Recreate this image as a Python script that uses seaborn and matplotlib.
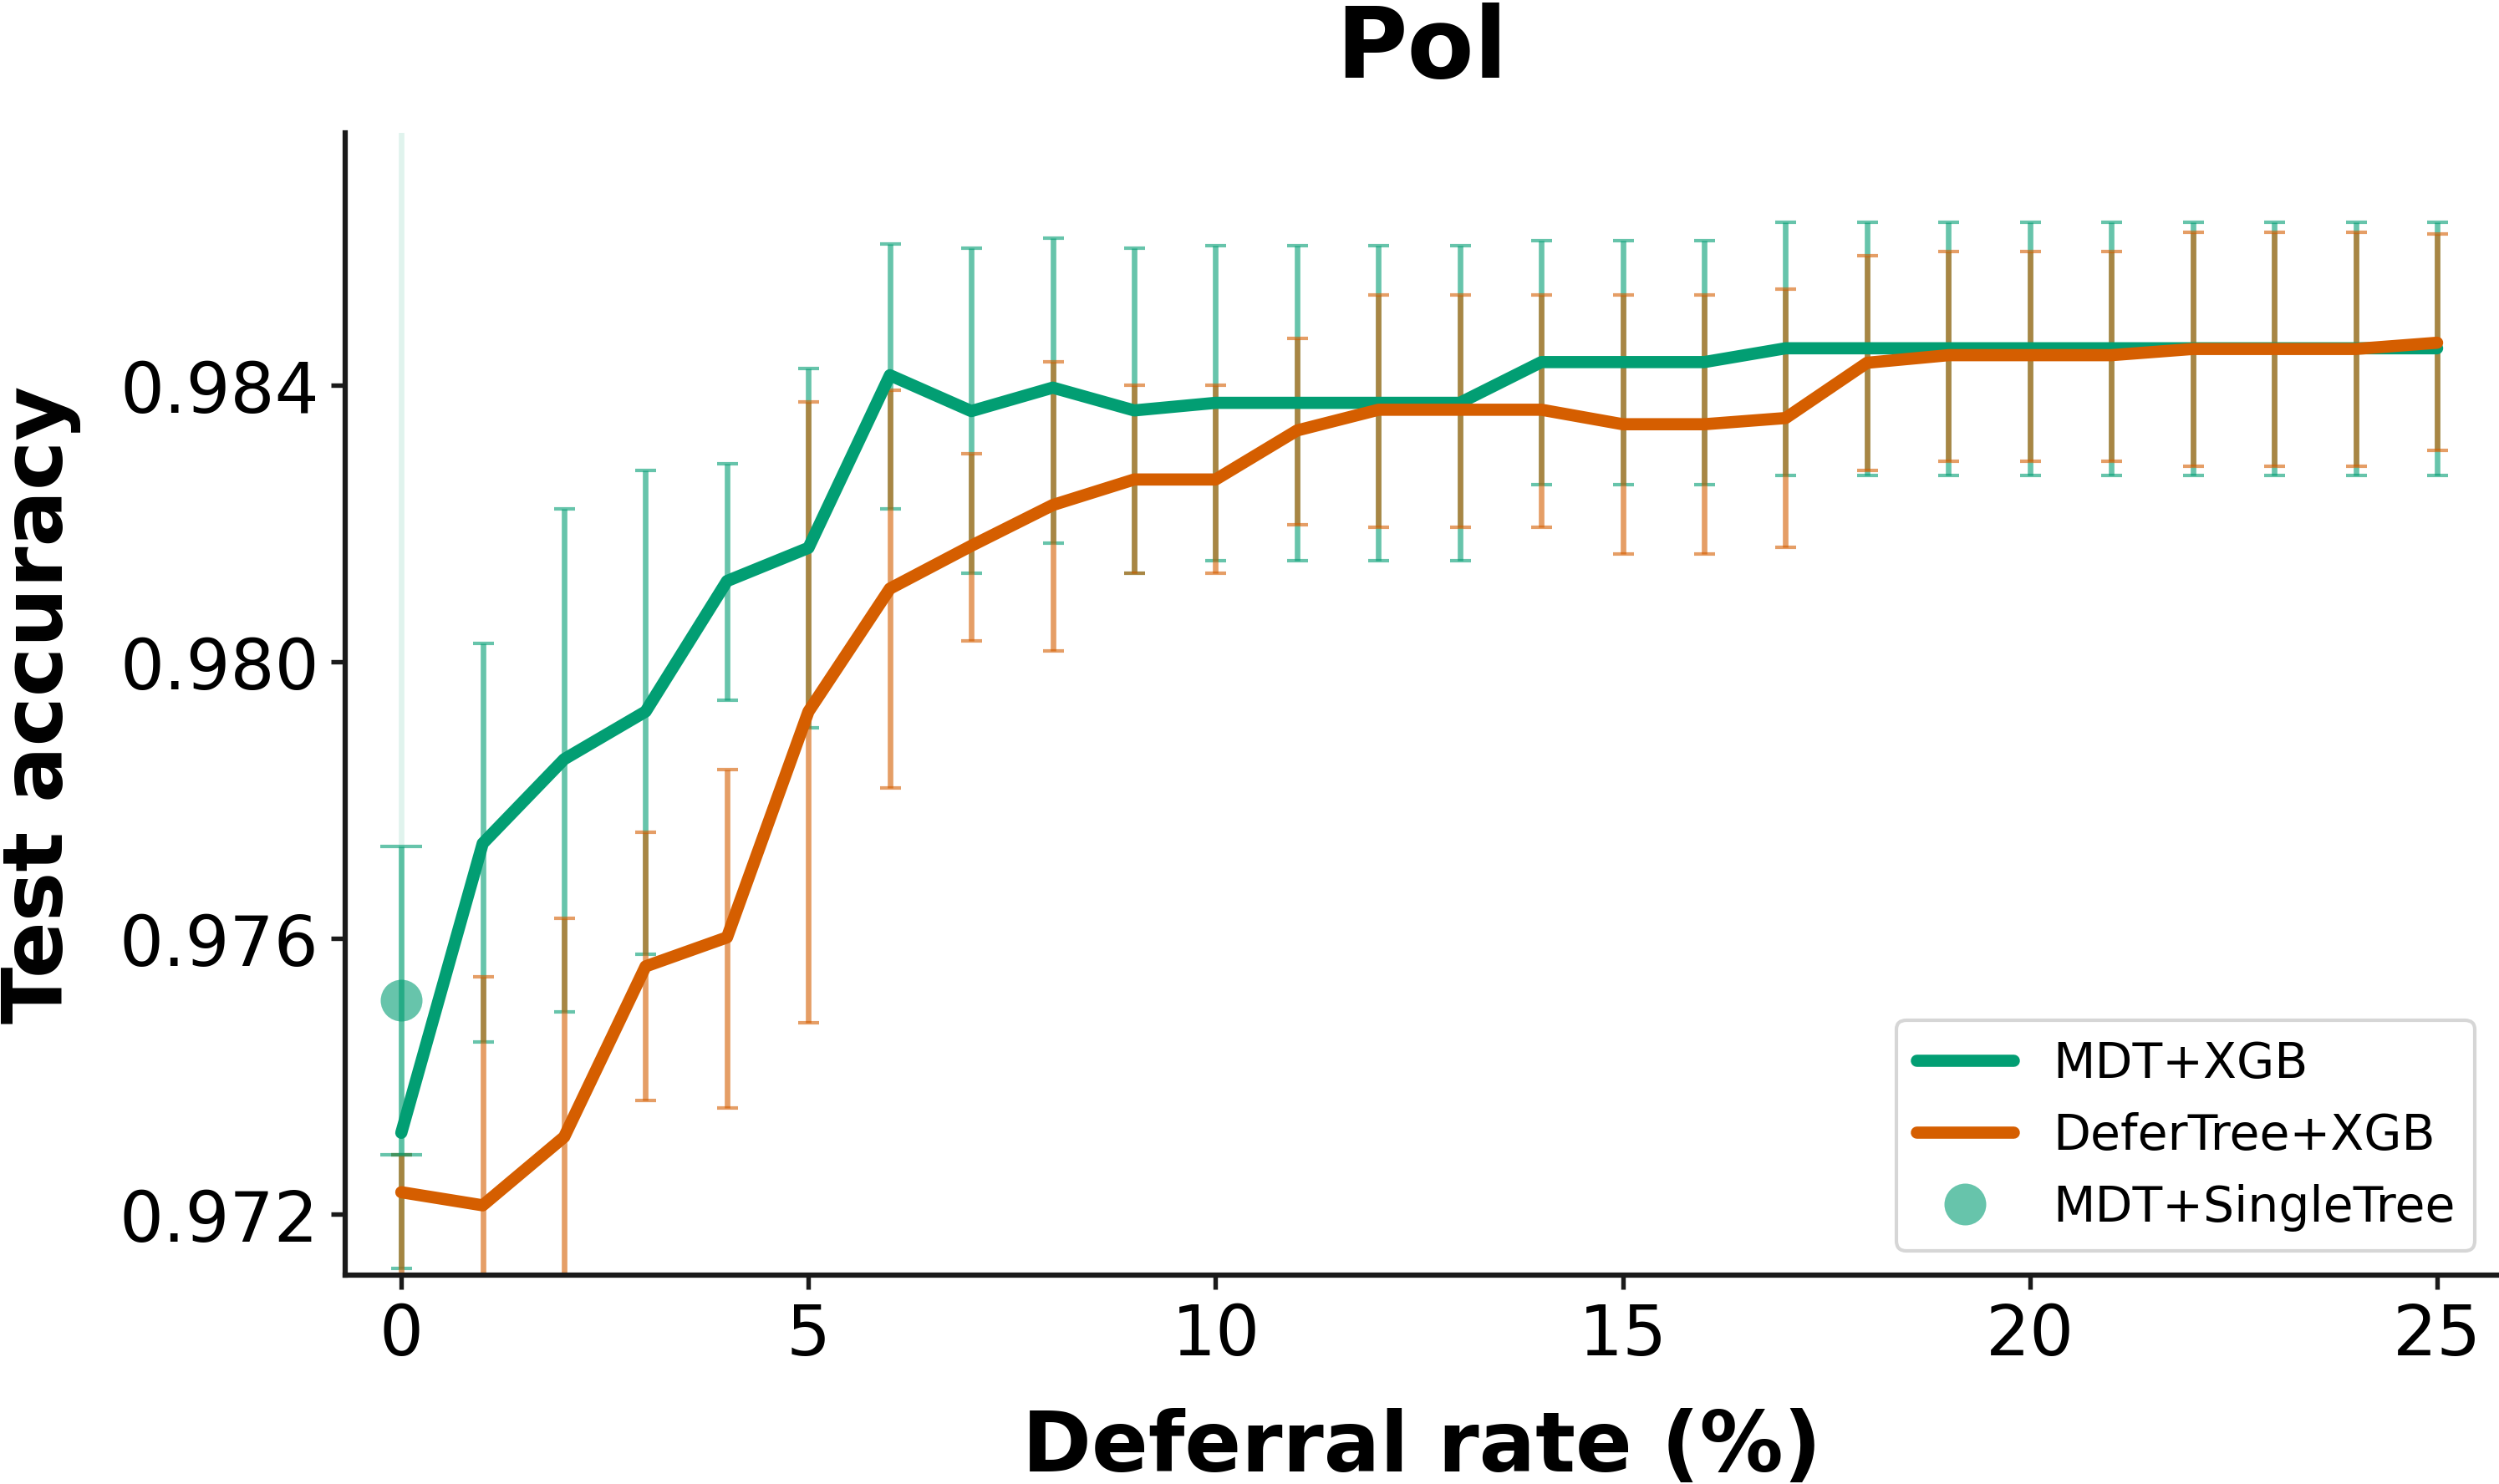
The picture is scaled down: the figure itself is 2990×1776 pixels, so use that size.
import numpy as np
import pandas as pd
import matplotlib
matplotlib.use("Agg")
import matplotlib.pyplot as plt
from matplotlib.lines import Line2D
from matplotlib.ticker import FormatStrFormatter
import seaborn as sns

# ---------------------------------------------------
# Data
# ---------------------------------------------------
deferral_rate = list(range(26))

mdt_xgb_mean = [0.97318, 0.97737, 0.97859, 0.97928, 0.98117, 0.98165, 0.98415, 0.98363,
                0.98397, 0.98364, 0.98375, 0.98375, 0.98375, 0.98375, 0.98434, 0.98434,
                0.98434, 0.98454, 0.98454, 0.98454, 0.98454, 0.98454, 0.98454, 0.98454,
                0.98454, 0.98454]
mdt_xgb_low = [0.97122, 0.97450, 0.97493, 0.97577, 0.97944, 0.97905, 0.98221, 0.98128,
               0.98172, 0.98128, 0.98146, 0.98146, 0.98146, 0.98146, 0.98256, 0.98256,
               0.98256, 0.98270, 0.98270, 0.98270, 0.98270, 0.98270, 0.98270, 0.98270,
               0.98270, 0.98270]
mdt_xgb_high = [0.97286, 0.98027, 0.98221, 0.98277, 0.98287, 0.98425, 0.98605, 0.98599,
                0.98614, 0.98599, 0.98602, 0.98602, 0.98602, 0.98602, 0.98610, 0.98610,
                0.98610, 0.98636, 0.98636, 0.98636, 0.98636, 0.98636, 0.98636, 0.98636,
                0.98636, 0.98636]

defer_mean = [0.97232, 0.97213, 0.97312, 0.97559, 0.97601, 0.97928, 0.98106, 0.98168,
              0.98227, 0.98264, 0.98264, 0.98335, 0.98365, 0.98365, 0.98365, 0.98344,
              0.98344, 0.98353, 0.98433, 0.98444, 0.98444, 0.98444, 0.98453, 0.98453,
              0.98453, 0.98462]
defer_low = [0.96950, 0.96882, 0.96996, 0.97365, 0.97354, 0.97477, 0.97817, 0.98030,
             0.98016, 0.98128, 0.98128, 0.98199, 0.98195, 0.98195, 0.98195, 0.98156,
             0.98156, 0.98166, 0.98277, 0.98291, 0.98291, 0.98291, 0.98283, 0.98283,
             0.98283, 0.98306]
defer_high = [0.97286, 0.97544, 0.97628, 0.97753, 0.97844, 0.98376, 0.98393, 0.98301,
              0.98434, 0.98400, 0.98400, 0.98468, 0.98531, 0.98531, 0.98531, 0.98531,
              0.98531, 0.98540, 0.98588, 0.98594, 0.98594, 0.98594, 0.98622, 0.98622,
              0.98622, 0.98619]

single_tree_x = [0]
single_tree_mean = [0.97510]
single_tree_low = [0.97286]
single_tree_high = [0.97733]

methods = ["MDT+XGB", "DeferTree+XGB", "MDT+SingleTree"]
green = "#029e73"
orange = "#d55e00"


def draw_band(ax, x, low, high, color, capsize, zorder):
    # error bars given by their ends, drawn around the middle of each interval
    lo = np.array(low)
    hi = np.array(high)
    ax.errorbar(x, (lo + hi) / 2, yerr=(hi - lo) / 2, fmt="none", ecolor=color,
                alpha=0.6, elinewidth=1.6, capsize=capsize, capthick=1.0, zorder=zorder)


# ---------------------------------------------------
# Plot
# ---------------------------------------------------
sns.set_theme(style="ticks", rc={
    "axes.edgecolor": "#1a1a1a",
    "axes.linewidth": 1.5,
    "xtick.color": "#1a1a1a",
    "ytick.color": "#1a1a1a",
    "xtick.labelcolor": "black",
    "ytick.labelcolor": "black",
    "text.color": "black",
    "axes.labelcolor": "black",
    "xtick.major.size": 4,
    "ytick.major.size": 4,
    "xtick.major.width": 1.3,
    "ytick.major.width": 1.3,
})
plt.rcParams["font.family"] = ["DejaVu Sans"]

fig, ax = plt.subplots(figsize=(2990 / 300, 1777 / 300), dpi=300)
fig.subplots_adjust(left=0.1381, right=1.0, bottom=0.1407, top=0.91)

df = pd.DataFrame({
    "deferral": deferral_rate * 2,
    "accuracy": mdt_xgb_mean + defer_mean,
    "method": [methods[0]] * len(deferral_rate) + [methods[1]] * len(deferral_rate),
})

ax.axvline(0, color=green, alpha=0.12, lw=1.6, zorder=0)

draw_band(ax, deferral_rate, mdt_xgb_low, mdt_xgb_high, green, 3, 1)
draw_band(ax, deferral_rate, defer_low, defer_high, orange, 3, 1)

sns.lineplot(data=df, x="deferral", y="accuracy", hue="method",
             palette=[green, orange], linewidth=3.5, legend=False, ax=ax, zorder=3)

draw_band(ax, single_tree_x, single_tree_low, single_tree_high, green, 6, 2)
ax.plot(single_tree_x, single_tree_mean, "o", ms=12, color=green, alpha=0.6, mec="none", zorder=4)

ax.set_xlim(-0.69, 25.76)
ax.set_ylim(0.97112, 0.98766)
ax.set_xticks([0, 5, 10, 15, 20, 25])
ax.set_yticks([0.972, 0.976, 0.980, 0.984])
ax.yaxis.set_major_formatter(FormatStrFormatter("%.3f"))
ax.tick_params(labelsize=20)
sns.despine(ax=ax)

ax.set_title("Pol", fontsize=28, fontweight="bold", pad=16)
ax.set_xlabel("Deferral rate (%)", fontsize=24, fontweight="bold", labelpad=11)
ax.set_ylabel("Test accuracy", fontsize=24, fontweight="bold", labelpad=11)

handles = [
    Line2D([], [], color=green, lw=3.5),
    Line2D([], [], color=orange, lw=3.5),
    Line2D([], [], ls="none", marker="o", ms=12, color=green, alpha=0.6, mec="none"),
]
ax.legend(handles, methods, loc="lower right", fontsize=14, frameon=True)

fig.savefig("out.png", dpi=300)
